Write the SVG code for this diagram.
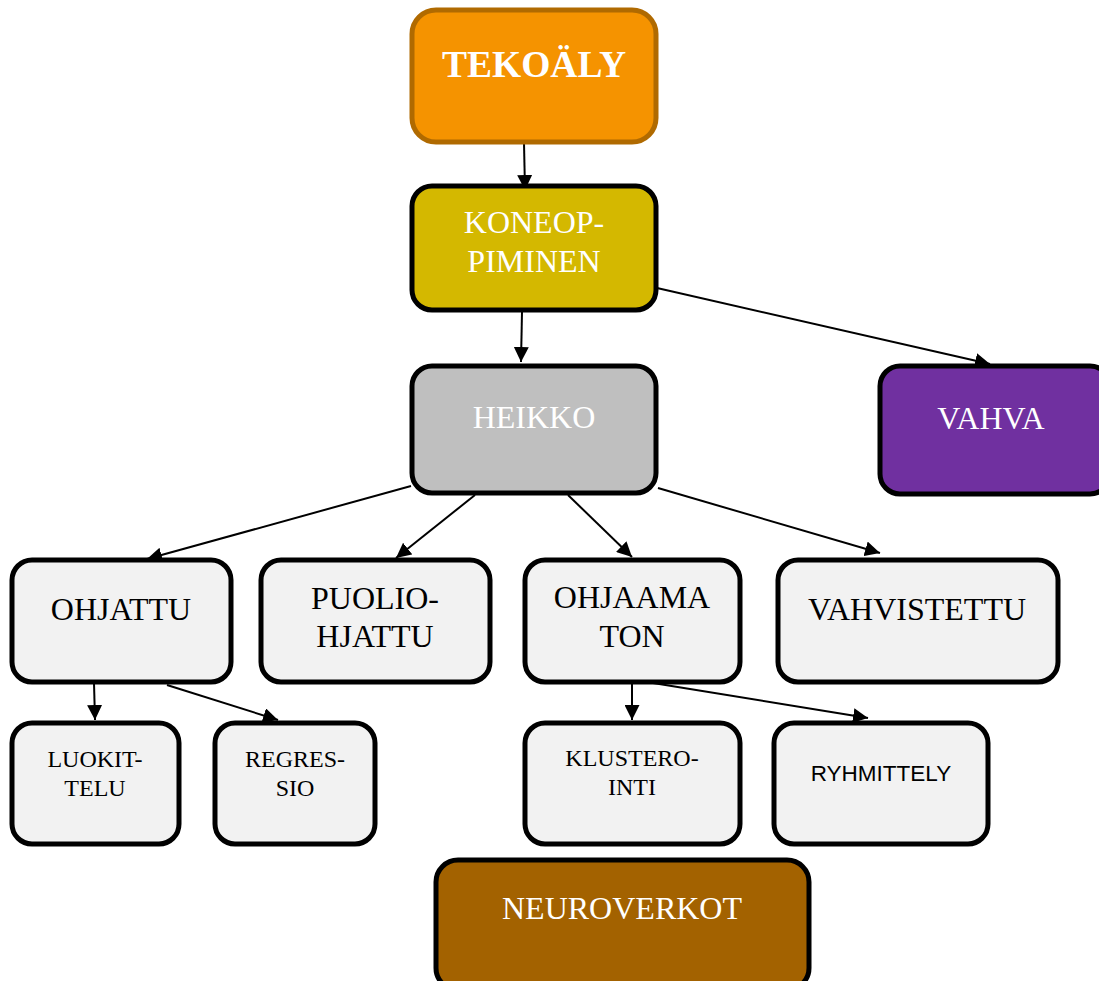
<svg xmlns="http://www.w3.org/2000/svg" width="1099" height="981" viewBox="0 0 1099 981">
<defs>
<marker id="ah" viewBox="0 0 10 10" refX="10" refY="5" markerWidth="7.5" markerHeight="7.5" markerUnits="strokeWidth" orient="auto">
<path d="M0,0 L10,5 L0,10 z" fill="#000"/>
</marker>
<style>
.box{stroke:#000;stroke-width:5}
.lt{fill:#f2f2f2}
.t{font-family:"Liberation Serif","Times New Roman",serif;text-anchor:middle}
.w{fill:#fff}
.k{fill:#000}
.edge{stroke:#000;stroke-width:2;fill:none;marker-end:url(#ah)}
</style>
</defs>
<rect width="1099" height="981" fill="#fff"/>
<g id="connectors">
<line class="edge" x1="524" y1="143" x2="525" y2="190"/>
<line class="edge" x1="522" y1="312" x2="521" y2="362"/>
<line class="edge" x1="657" y1="288" x2="990" y2="364"/>
<line class="edge" x1="411" y1="486" x2="147" y2="559"/>
<line class="edge" x1="475" y1="495" x2="396" y2="558"/>
<line class="edge" x1="568" y1="495" x2="632" y2="557"/>
<line class="edge" x1="658" y1="488" x2="880" y2="553"/>
<line class="edge" x1="94" y1="683" x2="95" y2="720"/>
<line class="edge" x1="167" y1="685" x2="278" y2="720"/>
<line class="edge" x1="632" y1="683" x2="632" y2="720"/>
<line class="edge" x1="653" y1="683" x2="868" y2="718"/>
</g>
<g id="tekoaly">
<rect x="412" y="10" width="244" height="132" rx="24" fill="#f59300" stroke="#b06a00" stroke-width="5"/>
<text class="t w" x="534" y="77" font-size="37.5" font-weight="bold">TEKOÄLY</text>
</g>
<g id="koneoppiminen">
<rect class="box" x="412" y="186" width="244" height="124" rx="20" fill="#d4b800"/>
<text class="t w" x="534" y="233" font-size="32">KONEOP-</text>
<text class="t w" x="534" y="272" font-size="32">PIMINEN</text>
</g>
<g id="heikko">
<rect class="box" x="412" y="366" width="244" height="127" rx="20" fill="#bfbfbf"/>
<text class="t w" x="534" y="428" font-size="32">HEIKKO</text>
</g>
<g id="vahva">
<rect class="box" x="880" y="366" width="230" height="128" rx="20" fill="#7030a0"/>
<text class="t w" x="991" y="429" font-size="32">VAHVA</text>
</g>
<g id="ohjattu">
<rect class="box lt" x="12" y="560" width="219" height="122" rx="20"/>
<text class="t k" x="121" y="620" font-size="32">OHJATTU</text>
</g>
<g id="puoliohjattu">
<rect class="box lt" x="261" y="560" width="229" height="122" rx="20"/>
<text class="t k" x="375" y="609" font-size="32">PUOLIO-</text>
<text class="t k" x="375" y="647" font-size="32">HJATTU</text>
</g>
<g id="ohjaamaton">
<rect class="box lt" x="525" y="560" width="215" height="122" rx="20"/>
<text class="t k" x="632" y="608" font-size="32">OHJAAMA</text>
<text class="t k" x="632" y="647" font-size="32">TON</text>
</g>
<g id="vahvistettu">
<rect class="box lt" x="778" y="560" width="280" height="122" rx="20"/>
<text class="t k" x="917" y="620" font-size="32">VAHVISTETTU</text>
</g>
<g id="luokittelu">
<rect class="box lt" x="12" y="723" width="167" height="121" rx="20"/>
<text class="t k" x="95" y="767" font-size="24">LUOKIT-</text>
<text class="t k" x="95" y="796" font-size="24">TELU</text>
</g>
<g id="regressio">
<rect class="box lt" x="215" y="723" width="160" height="121" rx="20"/>
<text class="t k" x="295" y="767" font-size="24">REGRES-</text>
<text class="t k" x="295" y="796" font-size="24">SIO</text>
</g>
<g id="klusterointi">
<rect class="box lt" x="525" y="723" width="215" height="121" rx="20"/>
<text class="t k" x="632" y="766" font-size="24">KLUSTERO-</text>
<text class="t k" x="632" y="795" font-size="24">INTI</text>
</g>
<g id="ryhmittely">
<rect class="box lt" x="774" y="723" width="214" height="121" rx="20"/>
<text x="881" y="781" font-size="22.5" text-anchor="middle" fill="#000" font-family="'Liberation Sans',Arial,sans-serif">RYHMITTELY</text>
</g>
<g id="neuroverkot">
<rect class="box" x="436" y="860" width="373" height="130" rx="22" fill="#a36200"/>
<text class="t w" x="622" y="919" font-size="32">NEUROVERKOT</text>
</g>
</svg>
